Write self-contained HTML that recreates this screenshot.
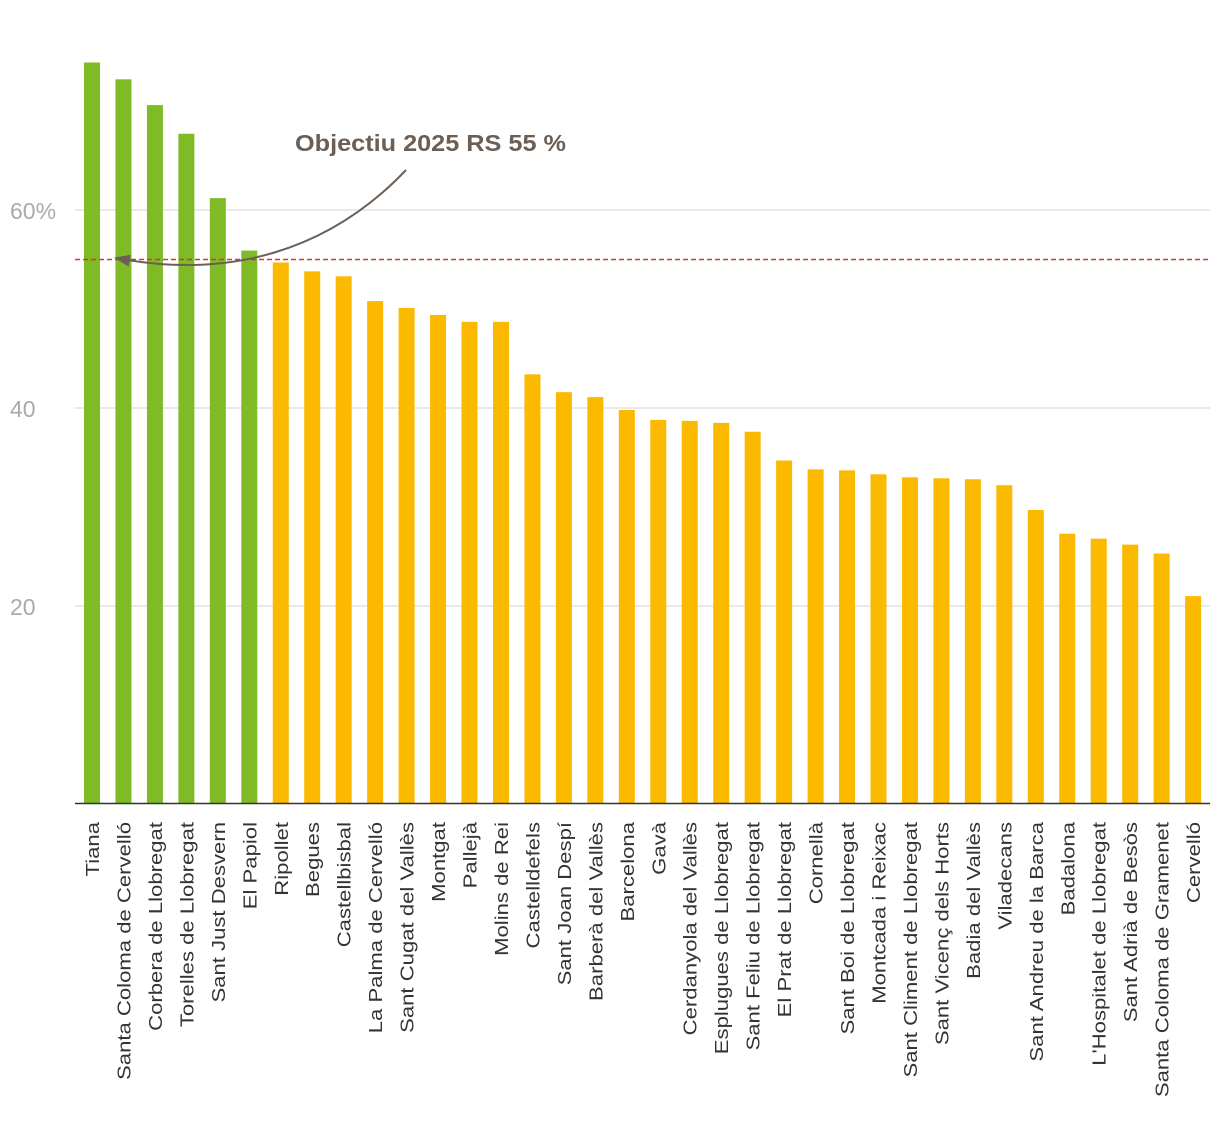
<!DOCTYPE html>
<html><head><meta charset="utf-8">
<style>
body{margin:0;background:#fff;}
svg{display:block;font-family:"Liberation Sans",sans-serif;}
</style></head>
<body>
<svg id="chart" width="1220" height="1122">
<g id="grid"></g>
<g id="bars"></g>
<g id="xlabels"></g>
<line x1="75" x2="1210" y1="803.5" y2="803.5" stroke="#333" stroke-width="1.5"/>
<line id="target" x1="75" x2="1210" stroke="#e53030" stroke-width="1.5" stroke-dasharray="5,3"/>
<defs><marker id="ah" markerUnits="userSpaceOnUse" markerWidth="16" markerHeight="12" refX="14" refY="6" orient="auto"><path d="M0,0 L16,6 L0,12 Z" fill="#6b6058"/></marker></defs>
<path d="M406,170 C330,250 230,280 116,258" fill="none" stroke="#6b6058" stroke-width="2" marker-end="url(#ah)"/>
<text x="295" y="151" font-size="23" font-weight="bold" fill="#6b5e54" textLength="271" lengthAdjust="spacingAndGlyphs">Objectiu 2025 RS 55 %</text>
</svg>
<script>
const categories=["Tiana","Santa Coloma de Cervelló","Corbera de Llobregat","Torelles de Llobregat","Sant Just Desvern","El Papiol","Ripollet","Begues","Castellbisbal","La Palma de Cervelló","Sant Cugat del Vallès","Montgat","Pallejà","Molins de Rei","Castelldefels","Sant Joan Despí","Barberà del Vallès","Barcelona","Gavà","Cerdanyola del Vallès","Esplugues de Llobregat","Sant Feliu de Llobregat","El Prat de Llobregat","Cornellà","Sant Boi de Llobregat","Montcada i Reixac","Sant Climent de Llobregat","Sant Vicenç dels Horts","Badia del Vallès","Viladecans","Sant Andreu de la Barca","Badalona","L'Hospitalet de Llobregat","Sant Adrià de Besòs","Santa Coloma de Gramenet","Cervelló"];
const values=[74.9,73.2,70.6,67.7,61.2,55.9,54.7,53.8,53.3,50.8,50.1,49.4,48.7,48.7,43.4,41.6,41.1,39.8,38.8,38.7,38.5,37.6,34.7,33.8,33.7,33.3,33.0,32.9,32.8,32.2,29.7,27.3,26.8,26.2,25.3,21.0];
const ticks=[20,40,60];
const tickLabels=["20","40","60%"];
const target=55;
const NS="http://www.w3.org/2000/svg";
const y=v=>804-v*9.9;
const x=i=>92+i*31.46;
function mk(t,a,p){const e=document.createElementNS(NS,t);for(const k in a)e.setAttribute(k,a[k]);p.appendChild(e);return e;}
const grid=document.getElementById('grid');
ticks.forEach((t,i)=>{
  const l=mk('line',{x1:75,x2:1210,y1:y(t),y2:y(t),stroke:'#e2e2e2','stroke-width':1.5},grid);
  
  
  const tx=mk('text',{x:10,y:y(t)+9,'font-size':23,fill:'#aaa'},grid);
  tx.textContent=tickLabels[i];
  
  
});
const bars=document.getElementById('bars'),xl=document.getElementById('xlabels');
values.forEach((v,i)=>{
  const r=mk('rect',{x:x(i)-8,y:y(v),width:16,height:804-y(v),fill:v>=target?'#7fba27':'#fbb900'},bars);
  
  
  const t=mk('text',{transform:`translate(${x(i)+7},822) rotate(-90) scale(1.3,1.1)`,'text-anchor':'end','font-size':17,fill:'#333'},xl);
  t.textContent=categories[i];
  
  
});
const tl=document.getElementById('target');tl.setAttribute('y1',y(target));tl.setAttribute('y2',y(target));
</script>
</body></html>
